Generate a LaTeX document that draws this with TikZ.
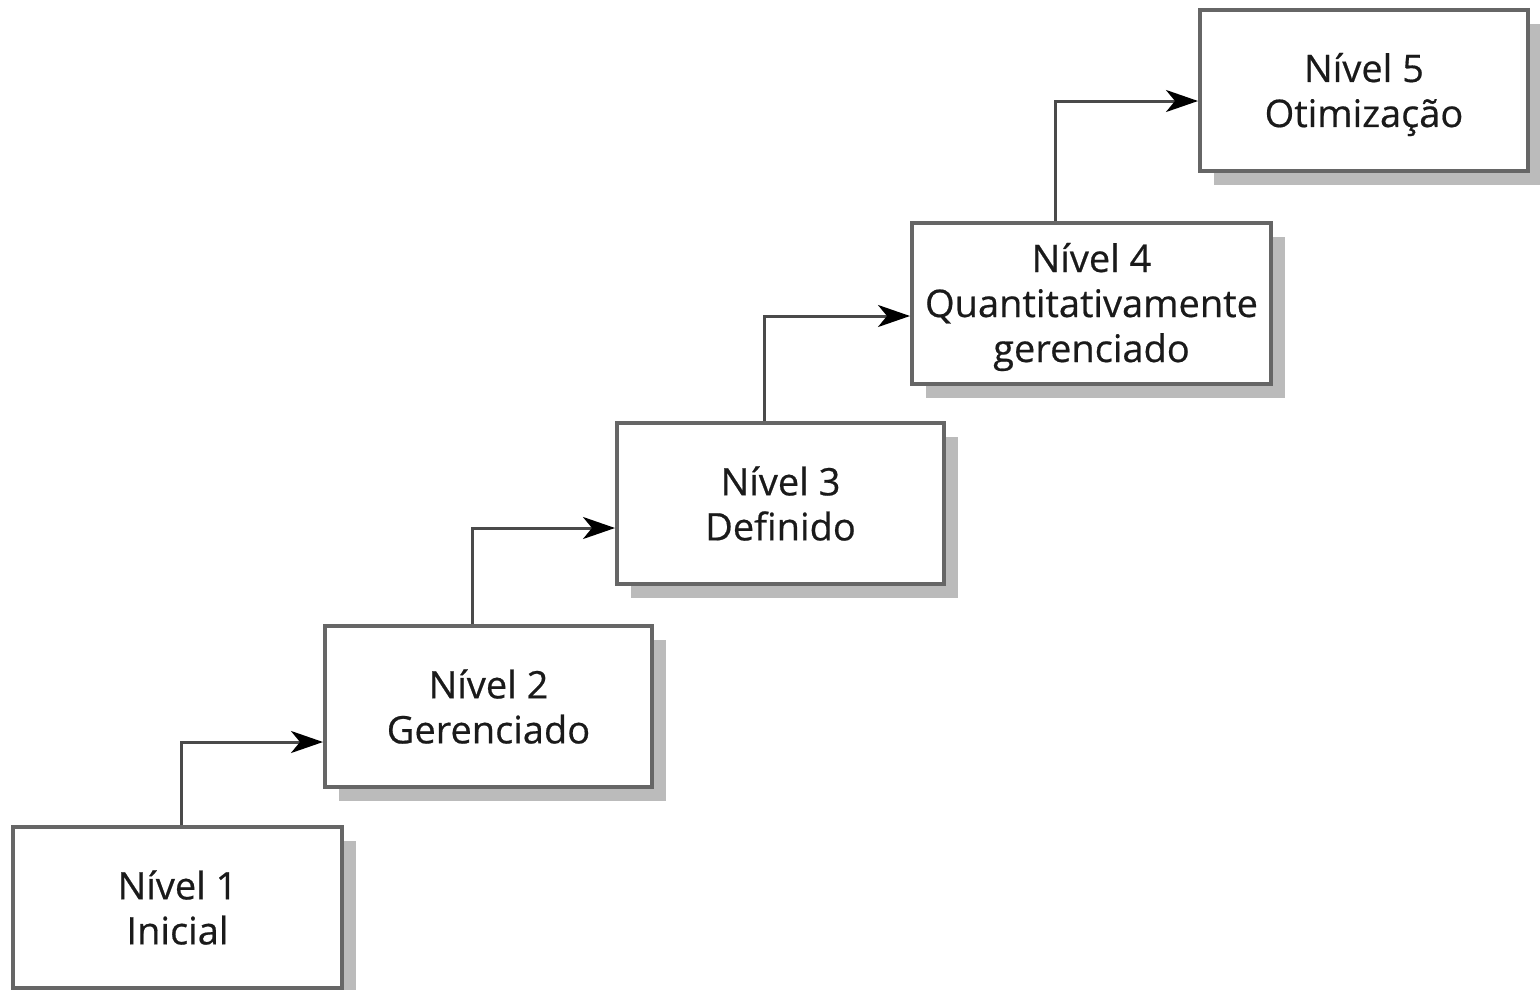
\documentclass[tikz,border=0pt]{standalone}
\usepackage{fontspec}
\setmainfont{Open Sans}
\newfontfamily\lvlfont{Open Sans}[FakeBold=0.5]
\usetikzlibrary{arrows.meta,shadows}
\definecolor{boxline}{HTML}{666666}
\definecolor{connline}{HTML}{4A4A4A}
\definecolor{shadowgray}{HTML}{BBBBBB}
\definecolor{txt}{HTML}{1A1A1A}
\begin{document}
\begin{tikzpicture}[x=1pt,y=-1pt,
  level/.style={draw=boxline, line width=4pt, fill=white, rectangle,
    minimum height=161pt, inner sep=0pt,
    drop shadow={shadow xshift=14pt, shadow yshift=-14pt, fill=shadowgray, opacity=1}},
  lvltext/.style={inner sep=0pt, align=center, text=txt,
    font=\lvlfont\fontsize{38}{45}\selectfont},
  conn/.style={draw=connline, line width=3pt,
    -{Stealth[length=32pt,width=22pt,inset=9pt,fill=black,color=black]}}]
\useasboundingbox (0,0) rectangle (1540,989);
\node[level, minimum width=329pt] (b1) at (177.5,907.5) {};
\node[level, minimum width=327pt] (b2) at (488.5,706.5) {};
\node[level, minimum width=327pt] (b3) at (780.5,503.5) {};
\node[level, minimum width=359pt] (b4) at (1091.5,303.5) {};
\node[level, minimum width=328pt] (b5) at (1364,90.5) {};
\node[lvltext] (t1) at (b1.center) {Nível 1\\Inicial};
\node[lvltext] (t2) at (b2.center) {Nível 2\\Gerenciado};
\node[lvltext] (t3) at (b3.center) {Nível 3\\Definido};
\node[lvltext] (t4) at ([yshift=-3.5pt]b4.center) {Nível 4\\Quantitativamente\\gerenciado};
\node[lvltext] (t5) at ([yshift=-4pt]b5.center) {Nível 5\\Otimização};
\draw[conn] ([xshift=3.5pt]b1.north) |- ([yshift=-35.5pt]b2.west);
\draw[conn] ([xshift=-16pt]b2.north) |- ([yshift=-24.5pt]b3.west);
\draw[conn] ([xshift=-16.5pt]b3.north) |- ([yshift=-12.5pt]b4.west);
\draw[conn] ([xshift=-36.5pt]b4.north) |- ([yshift=-10.5pt]b5.west);
\end{tikzpicture}
\end{document}
